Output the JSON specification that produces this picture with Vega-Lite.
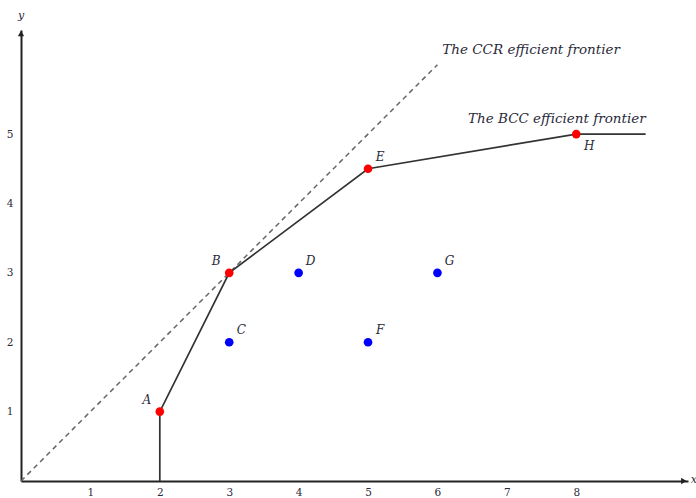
{
  "$schema": "https://vega.github.io/schema/vega-lite/v6.json",
  "width": 667,
  "height": 451,
  "autosize": {"type": "none"},
  "padding": {"left": 21, "top": 30, "right": 8, "bottom": 17},
  "background": "white",
  "config": {"view": {"stroke": null}},
  "datasets": {
    "points": [
      {"label": "A", "x": 2, "y": 1, "group": "efficient"},
      {"label": "B", "x": 3, "y": 3, "group": "efficient"},
      {"label": "E", "x": 5, "y": 4.5, "group": "efficient"},
      {"label": "H", "x": 8, "y": 5, "group": "efficient"},
      {"label": "C", "x": 3, "y": 2, "group": "inefficient"},
      {"label": "D", "x": 4, "y": 3, "group": "inefficient"},
      {"label": "F", "x": 5, "y": 2, "group": "inefficient"},
      {"label": "G", "x": 6, "y": 3, "group": "inefficient"}
    ],
    "bcc": [
      {"x": 2, "y": 0, "order": 0},
      {"x": 2, "y": 1, "order": 1},
      {"x": 3, "y": 3, "order": 2},
      {"x": 5, "y": 4.5, "order": 3},
      {"x": 8, "y": 5, "order": 4},
      {"x": 9, "y": 5, "order": 5}
    ],
    "ccr": [
      {"x": 0, "y": 0, "order": 0},
      {"x": 6, "y": 6, "order": 1}
    ],
    "notes": [
      {"text": "The CCR efficient frontier", "x": 6.07, "y": 6.21},
      {"text": "The BCC efficient frontier", "x": 6.44, "y": 5.22}
    ],
    "xend": [{"x": 9.55, "y": 0, "t": "x"}],
    "yend": [{"x": 0, "y": 6.45, "t": "y"}]
  },
  "encoding": {
    "x": {
      "field": "x", "type": "quantitative",
      "scale": {"domain": [0, 9.61], "nice": false, "zero": false},
      "axis": {
        "title": null, "values": [1, 2, 3, 4, 5, 6, 7, 8], "ticks": false, "grid": false,
        "domainColor": "#222", "domainWidth": 2, "labelFont": "DejaVu Serif", "labelFontSize": 10.5,
        "labelColor": "#2a2a3a", "labelPadding": 6
      }
    },
    "y": {
      "field": "y", "type": "quantitative",
      "scale": {"domain": [0, 6.5], "nice": false, "zero": false},
      "axis": {
        "title": null, "values": [1, 2, 3, 4, 5], "ticks": false, "grid": false,
        "domainColor": "#222", "domainWidth": 2, "labelFont": "DejaVu Serif", "labelFontSize": 10.5,
        "labelColor": "#2a2a3a", "labelPadding": 8
      }
    }
  },
  "layer": [
    {
      "data": {"name": "ccr"},
      "mark": {"type": "line", "color": "#666", "strokeWidth": 1.5, "strokeDash": [5, 4], "clip": false},
      "encoding": {"order": {"field": "order"}}
    },
    {
      "data": {"name": "bcc"},
      "mark": {"type": "line", "color": "#333", "strokeWidth": 1.7, "clip": false},
      "encoding": {"order": {"field": "order"}}
    },
    {
      "data": {"name": "points"},
      "mark": {"type": "circle", "opacity": 1, "size": 75},
      "encoding": {
        "color": {
          "field": "group", "type": "nominal",
          "scale": {"domain": ["efficient", "inefficient"], "range": ["#ff0000", "#0000ff"]},
          "legend": null
        }
      }
    },
    {
      "data": {"name": "points"},
      "transform": [{"filter": "datum.label == 'A' || datum.label == 'B'"}],
      "mark": {"type": "text", "font": "DejaVu Serif", "fontStyle": "italic", "fontSize": 12, "color": "#2a2a3a", "dx": -13, "dy": -12},
      "encoding": {"text": {"field": "label"}}
    },
    {
      "data": {"name": "points"},
      "transform": [{"filter": "indexof(['C','D','E','F','G'], datum.label) >= 0"}],
      "mark": {"type": "text", "font": "DejaVu Serif", "fontStyle": "italic", "fontSize": 12, "color": "#2a2a3a", "dx": 12, "dy": -12},
      "encoding": {"text": {"field": "label"}}
    },
    {
      "data": {"name": "points"},
      "transform": [{"filter": "datum.label == 'H'"}],
      "mark": {"type": "text", "font": "DejaVu Serif", "fontStyle": "italic", "fontSize": 12, "color": "#2a2a3a", "dx": 13, "dy": 12},
      "encoding": {"text": {"field": "label"}}
    },
    {
      "data": {"name": "notes"},
      "mark": {"type": "text", "font": "DejaVu Serif", "fontStyle": "italic", "fontSize": 13.5, "color": "#2a2a3a", "align": "left", "baseline": "middle"},
      "encoding": {"text": {"field": "text"}}
    },
    {
      "data": {"name": "xend"},
      "mark": {"type": "point", "shape": "triangle-right", "filled": true, "color": "#222", "size": 40, "opacity": 1, "clip": false}
    },
    {
      "data": {"name": "yend"},
      "mark": {"type": "point", "shape": "triangle-up", "filled": true, "color": "#222", "size": 40, "opacity": 1, "clip": false}
    },
    {
      "data": {"name": "xend"},
      "mark": {"type": "text", "font": "DejaVu Serif", "fontStyle": "italic", "fontSize": 11, "color": "#2a2a3a", "align": "left", "dx": 7, "dy": -1},
      "encoding": {"text": {"field": "t"}}
    },
    {
      "data": {"name": "yend"},
      "mark": {"type": "text", "font": "DejaVu Serif", "fontStyle": "italic", "fontSize": 11, "color": "#2a2a3a", "dy": -17},
      "encoding": {"text": {"field": "t"}}
    }
  ]
}
